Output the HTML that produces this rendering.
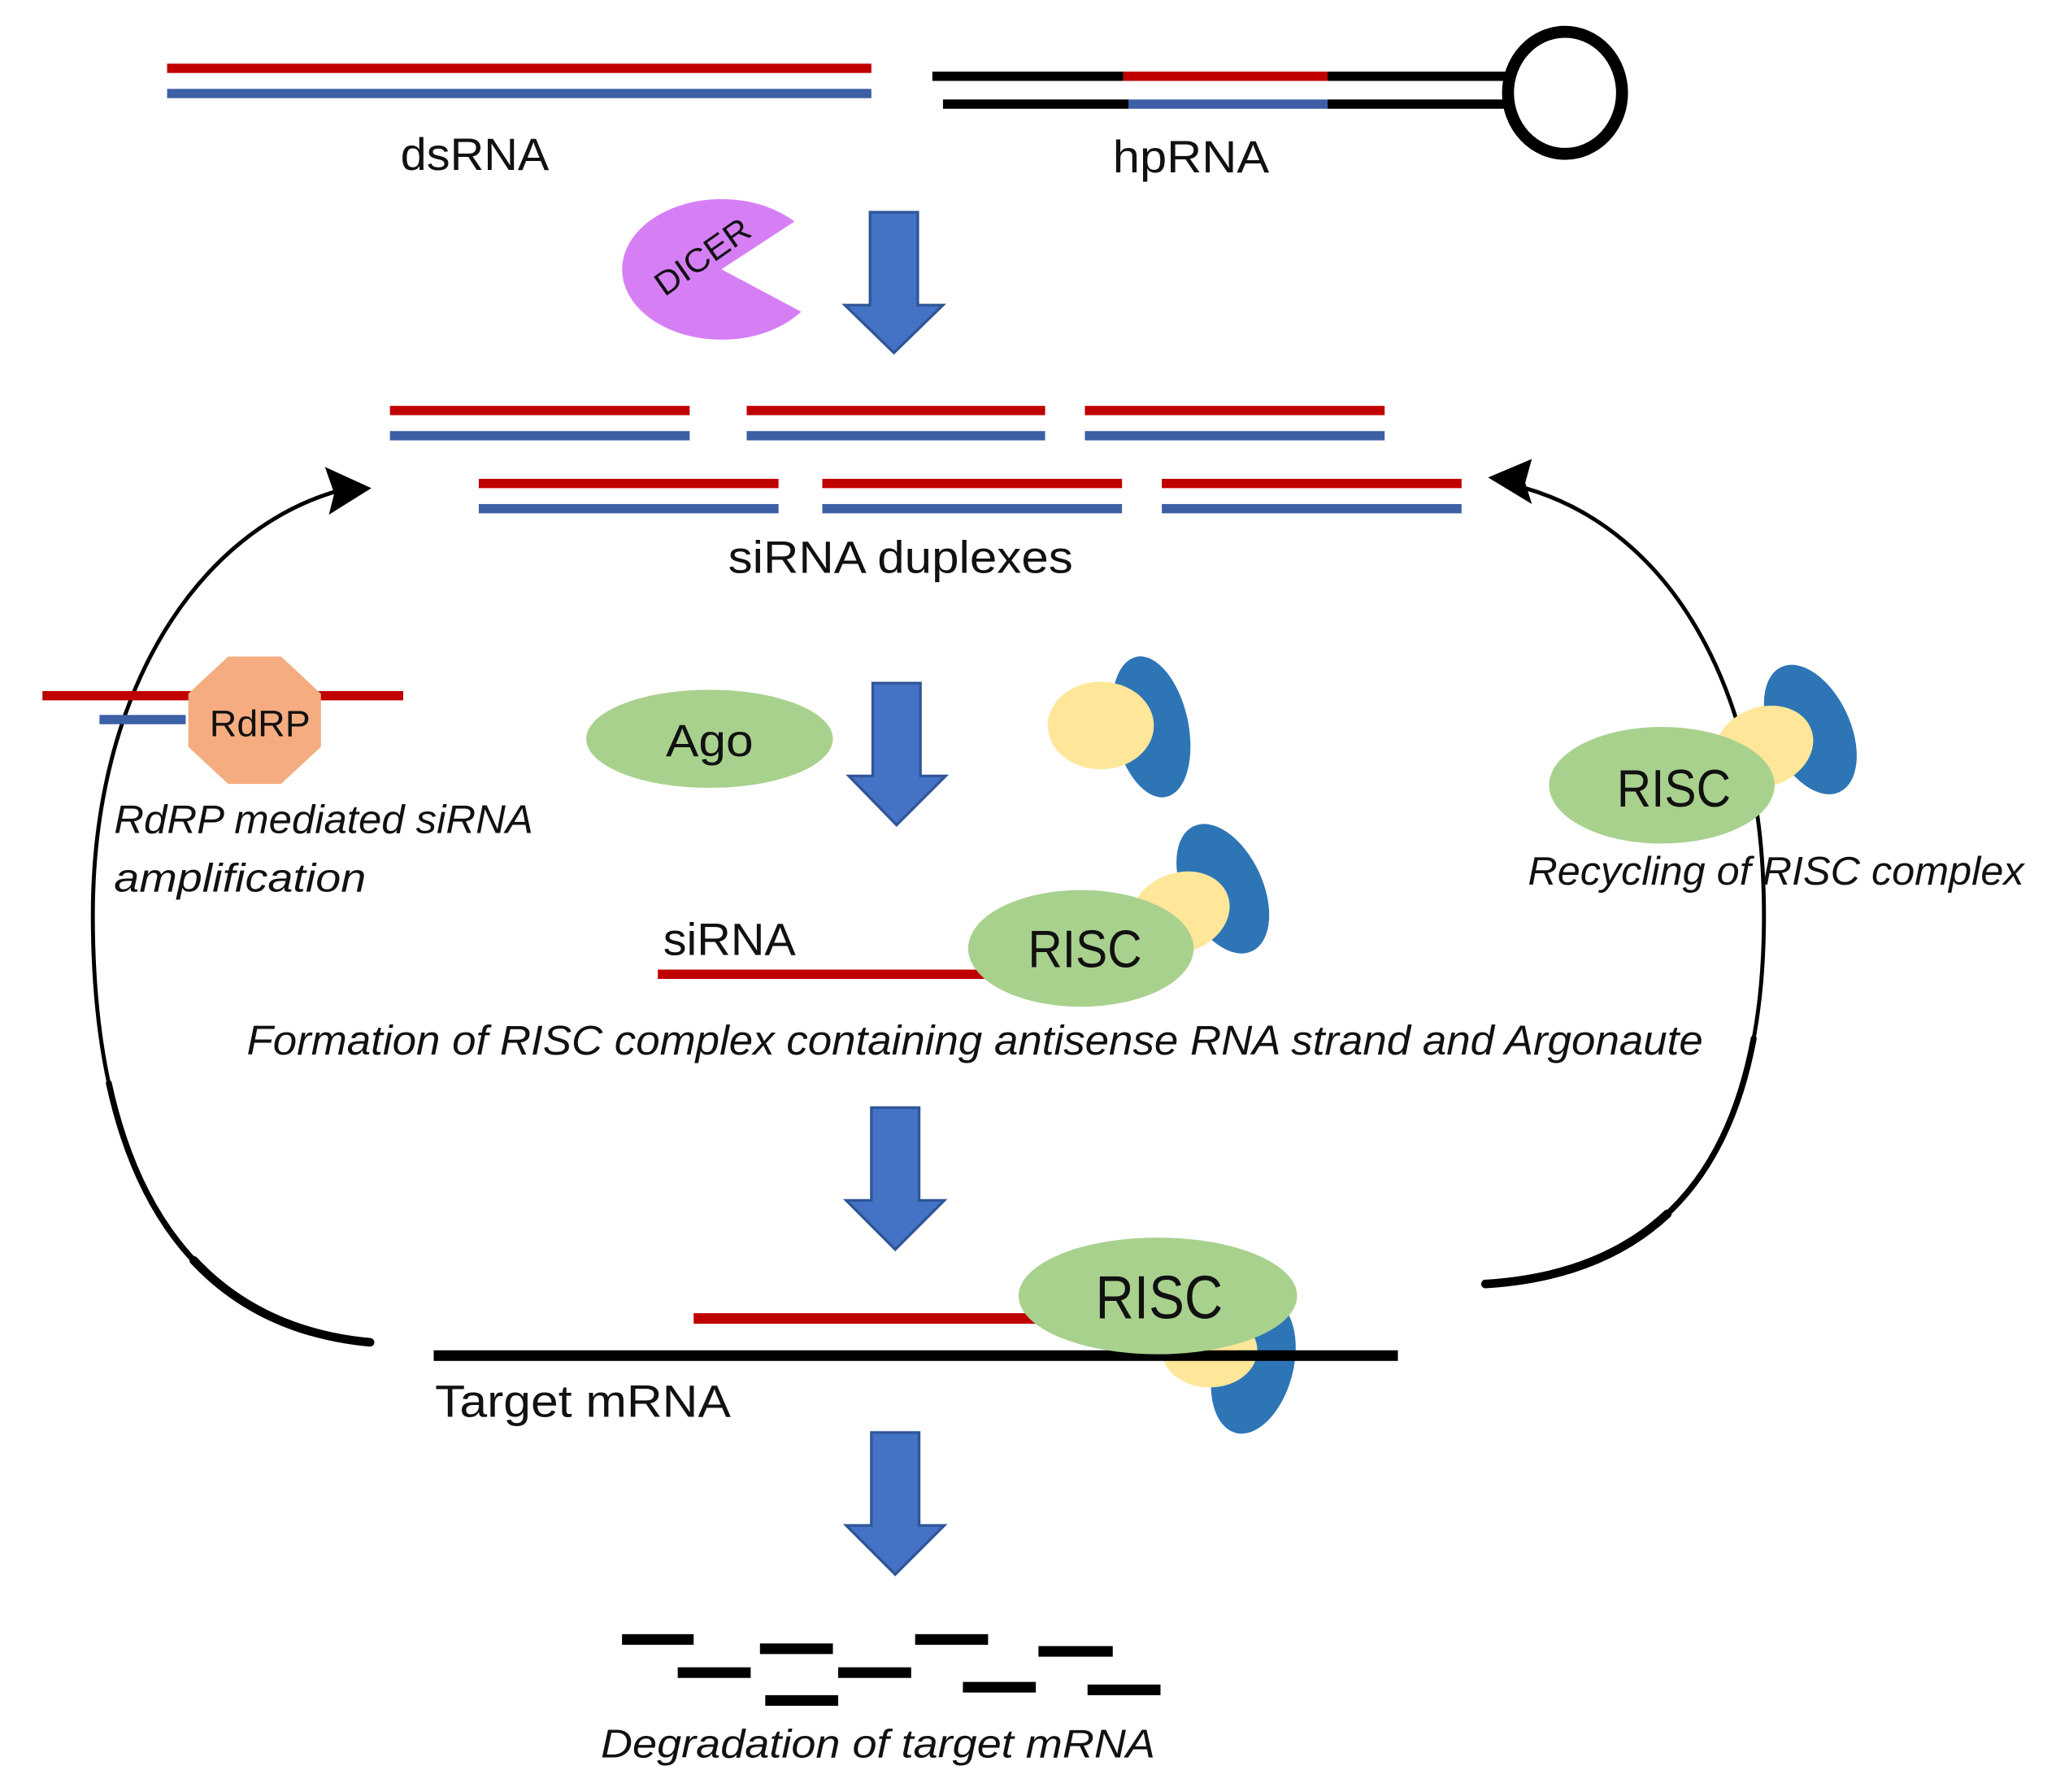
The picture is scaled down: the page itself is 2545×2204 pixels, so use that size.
<!DOCTYPE html>
<html><head><meta charset="utf-8"><style>
html,body{margin:0;padding:0;background:#fff;}
svg{display:block;}
text{font-family:"Liberation Sans",sans-serif;fill:#111;}
.it{font-style:italic;}
</style></head><body>
<svg width="2545" height="2204" viewBox="0 0 1560 1351" preserveAspectRatio="none" xmlns="http://www.w3.org/2000/svg">
<rect width="1560" height="1351" fill="#fff"/>
<rect x="126" y="48" width="531" height="7" fill="#C00000"/>
<rect x="126" y="67" width="531" height="7" fill="#3C5FA5"/>
<text x="358" y="128" font-size="34" text-anchor="middle" textLength="112" lengthAdjust="spacingAndGlyphs">dsRNA</text>
<rect x="703" y="54" width="144" height="7" fill="#000"/>
<rect x="847" y="54" width="154" height="7" fill="#C00000"/>
<rect x="1001" y="54" width="139" height="7" fill="#000"/>
<rect x="711" y="75" width="140" height="7" fill="#000"/>
<rect x="851" y="75" width="150" height="7" fill="#3C5FA5"/>
<rect x="1001" y="75" width="139" height="7" fill="#000"/>
<ellipse cx="1180" cy="70" rx="43" ry="46" fill="none" stroke="#000" stroke-width="9"/>
<text x="898" y="130" font-size="34" text-anchor="middle" textLength="118" lengthAdjust="spacingAndGlyphs">hpRNA</text>
<path d="M544,203 L599,167 A75 53 0 1 0 604,235 Z" fill="#D67FF5"/>
<text x="530" y="202" font-size="25" text-anchor="middle" transform="rotate(-35 530 194)" textLength="82" lengthAdjust="spacingAndGlyphs">DICER</text>
<g fill="#4472C4" stroke="#2F5597" stroke-width="2">
<path d="M656,160 H692 V230 H711 L674,266 L637,230 H656 Z"/>
<path d="M658,515 H694 V585 H713 L676,622 L640,585 H658 Z"/>
<path d="M657,835 H693 V905 H712 L675,942 L638,905 H657 Z"/>
<path d="M657,1080 H693 V1150 H712 L675,1187 L638,1150 H657 Z"/>
</g>
<g fill="#C00000">
<rect x="294" y="306" width="226" height="7"/><rect x="563" y="306" width="225" height="7"/><rect x="818" y="306" width="226" height="7"/>
<rect x="361" y="361" width="226" height="7"/><rect x="620" y="361" width="226" height="7"/><rect x="876" y="361" width="226" height="7"/>
</g>
<g fill="#3C5FA5">
<rect x="294" y="325" width="226" height="7"/><rect x="563" y="325" width="225" height="7"/><rect x="818" y="325" width="226" height="7"/>
<rect x="361" y="380" width="226" height="7"/><rect x="620" y="380" width="226" height="7"/><rect x="876" y="380" width="226" height="7"/>
</g>
<text x="679" y="432" font-size="34" text-anchor="middle" textLength="260" lengthAdjust="spacingAndGlyphs">siRNA duplexes</text>
<g fill="none" stroke="#000" stroke-linecap="round">
<path d="M279,1012 C150,1000 70,900 70,690 C70,520 150,400 255,370" stroke-width="3" stroke-linecap="butt"/>
<path d="M279,1012 C150,1000 70,900 70,690 C70,520 150,400 255,370" stroke-width="4.5" stroke-dasharray="300 5000"/>
<path d="M279,1012 C150,1000 70,900 70,690 C70,520 150,400 255,370" stroke-width="6.5" stroke-dasharray="150 5000"/>
<path d="M1120,968 C1250,960 1330,880 1330,690 C1330,520 1260,400 1150,368" stroke-width="3" stroke-linecap="butt"/>
<path d="M1120,968 C1250,960 1330,880 1330,690 C1330,520 1260,400 1150,368" stroke-width="4.5" stroke-dasharray="300 5000"/>
<path d="M1120,968 C1250,960 1330,880 1330,690 C1330,520 1260,400 1150,368" stroke-width="6.5" stroke-dasharray="150 5000"/>
</g>
<path d="M280,368 L245,352 L252,372 L248,388 Z" fill="#000"/>
<path d="M1122,360 L1155,346 L1150,364 L1155,380 Z" fill="#000"/>
<rect x="32" y="521" width="272" height="7" fill="#C00000"/>
<rect x="75" y="539" width="65" height="7" fill="#3C5FA5"/>
<polygon points="172,495 212,495 242,523 242,563 212,591 172,591 142,563 142,523" fill="#F4AC80"/>
<text x="196" y="555" font-size="28" text-anchor="middle" textLength="76" lengthAdjust="spacingAndGlyphs">RdRP</text>
<text class="it" x="86" y="628" font-size="30" textLength="316" lengthAdjust="spacingAndGlyphs">RdRP mediated siRNA</text>
<text class="it" x="86" y="672" font-size="30" textLength="190" lengthAdjust="spacingAndGlyphs">amplification</text>
<ellipse cx="535" cy="557" rx="93" ry="37" fill="#A9D18E"/>
<text x="535" y="570" font-size="34" text-anchor="middle" textLength="66" lengthAdjust="spacingAndGlyphs">Ago</text>
<ellipse cx="868" cy="548" rx="28" ry="54" fill="#2E75B6" transform="rotate(-12 868 548)"/>
<ellipse cx="830" cy="547" rx="40" ry="33" fill="#FFE699"/>
<ellipse cx="1365" cy="550" rx="30" ry="52" fill="#2E75B6" transform="rotate(-25 1365 550)"/>
<ellipse cx="1330" cy="563" rx="38" ry="30" fill="#FFE699" transform="rotate(-20 1330 563)"/>
<ellipse cx="1253" cy="592" rx="85" ry="44" fill="#A9D18E"/>
<text x="1262" y="608" font-size="40" text-anchor="middle" textLength="86" lengthAdjust="spacingAndGlyphs">RISC</text>
<text class="it" x="1152" y="667" font-size="30" textLength="374" lengthAdjust="spacingAndGlyphs">Recycling of RISC complex</text>
<text x="500" y="720" font-size="34" textLength="100" lengthAdjust="spacingAndGlyphs">siRNA</text>
<rect x="496" y="731" width="250" height="7" fill="#C00000"/>
<ellipse cx="922" cy="670" rx="30" ry="52" fill="#2E75B6" transform="rotate(-25 922 670)"/>
<ellipse cx="890" cy="688" rx="38" ry="30" fill="#FFE699" transform="rotate(-20 890 688)"/>
<ellipse cx="815" cy="715" rx="85" ry="44" fill="#A9D18E"/>
<text x="818" y="729" font-size="40" text-anchor="middle" textLength="86" lengthAdjust="spacingAndGlyphs">RISC</text>
<text class="it" x="735" y="795" font-size="31" text-anchor="middle" textLength="1098" lengthAdjust="spacingAndGlyphs">Formation of RISC complex containing antisense RNA strand and Argonaute</text>
<rect x="523" y="990" width="262" height="8" fill="#C00000"/>
<ellipse cx="945" cy="1030" rx="30" ry="52" fill="#2E75B6" transform="rotate(15 945 1030)"/>
<ellipse cx="912" cy="1018" rx="36" ry="28" fill="#FFE699"/>
<rect x="327" y="1018" width="727" height="8" fill="#000"/>
<ellipse cx="873" cy="977" rx="105" ry="44" fill="#A9D18E"/>
<text x="874" y="994" font-size="46" text-anchor="middle" textLength="96" lengthAdjust="spacingAndGlyphs">RISC</text>
<text x="328" y="1068" font-size="34" textLength="223" lengthAdjust="spacingAndGlyphs">Target mRNA</text>
<g fill="#000">
<rect x="469" y="1232" width="54" height="8"/><rect x="573" y="1239" width="55" height="8"/>
<rect x="690" y="1232" width="55" height="8"/><rect x="783" y="1241" width="56" height="8"/>
<rect x="511" y="1257" width="55" height="8"/><rect x="632" y="1257" width="55" height="8"/>
<rect x="726" y="1268" width="55" height="8"/><rect x="820" y="1270" width="55" height="8"/>
<rect x="577" y="1278" width="55" height="8"/>
</g>
<text class="it" x="662" y="1325" font-size="30" text-anchor="middle" textLength="418" lengthAdjust="spacingAndGlyphs">Degradation of target mRNA</text>
</svg>
</body></html>
